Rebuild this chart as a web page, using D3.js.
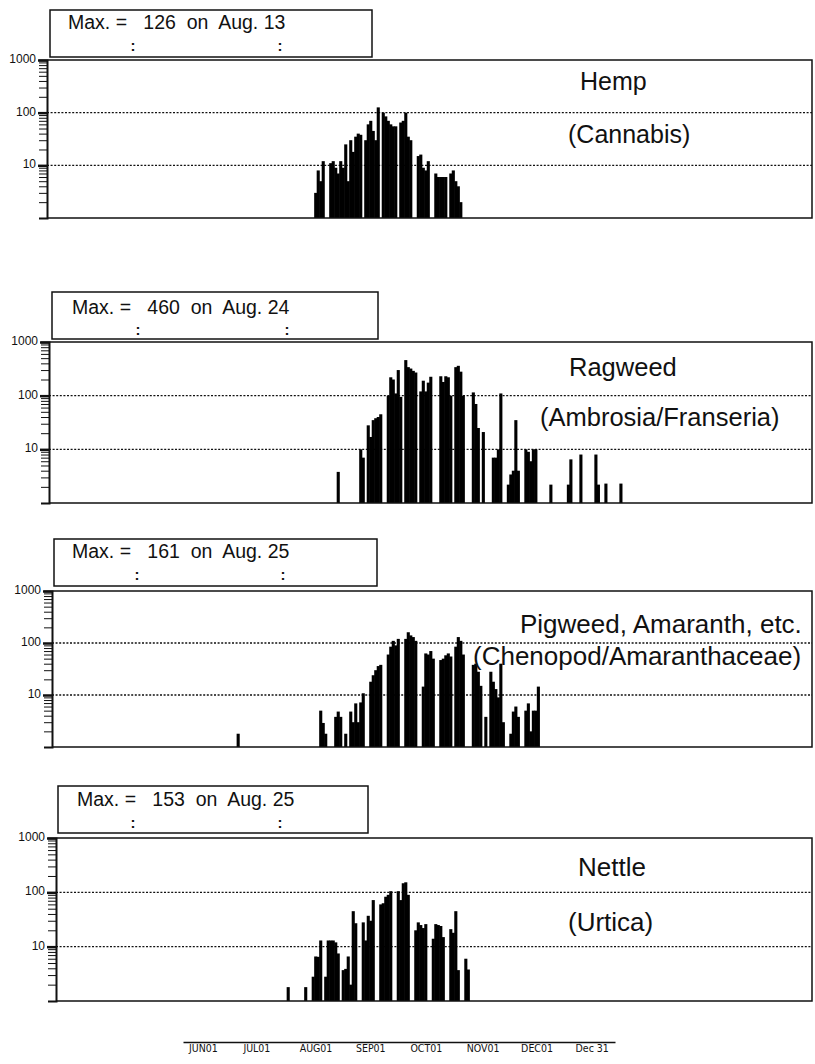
<!DOCTYPE html>
<html>
<head>
<meta charset="utf-8">
<script src="https://cdn.jsdelivr.net/npm/d3@7"></script>
<style>
  body { margin: 0; background: #fff; }
  svg { display: block; font-family: 'Liberation Sans', Arial, sans-serif; }
  .hdr { white-space: pre; }
</style>
</head>
<body>
<div id="chart"></div>
<script>
// daily pollen counts read off the scanned calendar, 0 = no count that day

var hempStart = '2001-07-19'
var hempCounts = [
  3, 8, 5, 12, 0, 0,
  11, 12, 9, 7, 12, 9,
  25, 5, 30, 18, 35, 40, 38, 0,
  30, 60, 70, 45, 30, 126, 0,
  100, 85, 70, 60, 55, 55, 0,
  65, 70, 100, 35, 30, 0, 0,
  15, 16, 9, 8, 12, 0, 0,
  7, 6, 6, 6, 6, 0,
  7, 8, 5, 4, 2
]

var ragweedStart = '2001-07-28'
var ragweedCounts = [
  3.8, 0, 0, 0, 0, 0, 0, 0, 0,
  10, 7, 0,
  28, 17, 35, 38, 40, 45, 0, 0,
  100, 220, 200, 110, 300, 95, 0,
  460, 340, 320, 290, 270, 0,
  120, 190, 120, 175, 225, 0, 0, 0,
  230, 180, 230, 220, 100, 0,
  340, 360, 280, 100, 0, 0, 0,
  115, 70, 25, 0, 21, 0, 0, 0,
  7, 7, 10, 110, 0, 0,
  2.2, 3.4, 4, 35, 4, 0, 0,
  10, 9, 6, 10, 10, 0, 0, 0, 0, 0,
  2.2, 0, 0, 0, 0, 0, 0,
  2.2, 6.5, 0, 0, 0,
  8, 0, 0, 0, 0, 0,
  8, 2.2, 0, 0,
  2.3, 0, 0, 0, 0, 0,
  2.3
]

var pigweedStart = '2001-06-18'
var pigweedCounts = [
  1.8, 0, 0, 0, 0, 0, 0, 0, 0, 0, 0, 0, 0, 0, 0, 0, 0,
  0, 0, 0, 0, 0, 0, 0, 0, 0, 0, 0, 0, 0, 0, 0, 0,
  5, 2.9, 1.8, 0, 0, 0,
  3.8, 4.8, 3.8, 0, 1.8, 0,
  4.8, 3, 6.9, 3, 7.2, 10.8, 0, 0,
  18, 24, 30, 36, 38, 0, 0,
  60, 85, 110, 90, 120, 0, 0,
  120, 161, 140, 130, 110, 0, 0,
  14.5, 63, 60, 70, 50, 0, 0,
  47, 50, 58, 63, 55, 0,
  85, 130, 110, 60, 0, 0, 0,
  38, 40, 28, 15, 0, 3.8, 0,
  28, 18, 13, 9, 40, 3, 0, 0,
  1.8, 4.8, 6, 3.8, 0, 0,
  5, 6.9, 2, 5, 5, 14.5
]

var nettleStart = '2001-07-08'
var nettleCounts = [
  1.8, 0, 0, 0, 0, 0, 0,
  1.8, 0, 0,
  2.8, 6.6, 6.5, 13, 0,
  2.8, 13, 13, 13, 12, 7.5, 0,
  3.7, 3.9, 6.6, 2, 45, 27, 0, 0,
  28, 13, 37, 30, 72, 0, 0,
  60, 63, 83, 90, 105, 0, 0,
  105, 72, 147, 153, 90, 0, 0,
  20, 28, 25, 22, 26, 0, 0,
  14, 26, 25, 24, 15, 0, 0,
  21, 18, 45, 3.7, 0, 0,
  6, 3.8
]

var taxaNames = ['Hemp', 'Ragweed', 'Pigweed, Amaranth, etc.', 'Nettle']
var taxaLatin = ['(Cannabis)', '(Ambrosia/Franseria)', '(Chenopod/Amaranthaceae)', '(Urtica)']
var maxValues = [126, 460, 161, 153]
var maxDates = ['Aug. 13', 'Aug. 24', 'Aug. 25', 'Aug. 25']
var yMajorTicks = [10, 100, 1000]
var gridValues = [10, 100]
var calendarTicks = ['2001-06-01', '2001-07-01', '2001-08-01', '2001-09-01', '2001-10-01', '2001-11-01', '2001-12-01', '2001-12-31']

// layout of the four stacked panels (pixel positions)
var layout = [
  { axisX: 47, top: 60, bottom: 218, box: [50, 10, 372, 57], hdrX: 68, hdrY: 29, colX: [133, 280], colY: 51, nameX: 580, nameY: 90, latinX: 568, latinY: 143, labelSize: 25 },
  { axisX: 49, top: 342, bottom: 503, box: [52, 292, 378, 339], hdrX: 72, hdrY: 314, colX: [138, 287], colY: 335, nameX: 569, nameY: 376, latinX: 540, latinY: 426, labelSize: 25.5 },
  { axisX: 52, top: 591, bottom: 747, box: [54, 539, 377, 586], hdrX: 72, hdrY: 558, colX: [137, 283], colY: 580, nameX: 520, nameY: 633, latinX: 473, latinY: 665, labelSize: 26 },
  { axisX: 56, top: 838, bottom: 1001, box: [58, 786, 368, 833], hdrX: 77, hdrY: 806, colX: [133, 280], colY: 828, nameX: 578, nameY: 876, latinX: 568, latinY: 931, labelSize: 26 }
]
var plotRight = 812

var parseDay = d3.utcParse('%Y-%m-%d')

// build one list of {date, value} per taxon
function toDaily (start, counts) {
  var t0 = parseDay(start)
  return counts.map(function (v, i) {
    return { date: d3.utcDay.offset(t0, i), value: v }
  }).filter(function (d) { return d.value > 0 })
}

var series = [
  toDaily(hempStart, hempCounts),
  toDaily(ragweedStart, ragweedCounts),
  toDaily(pigweedStart, pigweedCounts),
  toDaily(nettleStart, nettleCounts)
]

var svg = d3.select('#chart')
  .append('svg')
  .attr('width', 815)
  .attr('height', 1064)

svg.append('rect').attr('width', 815).attr('height', 1064).attr('fill', '#fff')

// common day scale for all panels
var x = d3.scaleUtc()
  .domain([parseDay('2001-04-04'), parseDay('2002-02-03')])
  .range([49, plotRight])

function drawPanel (i) {
  var p = layout[i]
  var g = svg.append('g').attr('class', 'panel')

  var y = d3.scaleLog().domain([1, 1000]).range([p.bottom, p.top])

  // header box with the seasonal maximum
  g.append('rect')
    .attr('x', p.box[0]).attr('y', p.box[1])
    .attr('width', p.box[2] - p.box[0]).attr('height', p.box[3] - p.box[1])
    .attr('fill', 'none').attr('stroke', '#111').attr('stroke-width', 1.5)
  g.append('text')
    .attr('class', 'hdr')
    .attr('x', p.hdrX).attr('y', p.hdrY)
    .attr('font-size', 19.5)
    .attr('fill', '#111')
    .text('Max. =   ' + maxValues[i] + '  on  ' + maxDates[i])
  g.selectAll('.colon')
    .data(p.colX)
    .enter()
    .append('text')
    .attr('class', 'colon')
    .attr('x', function (d) { return d })
    .attr('y', p.colY)
    .attr('font-size', 15)
    .attr('font-weight', 'bold')
    .attr('text-anchor', 'middle')
    .attr('fill', '#111')
    .text(':')

  // dotted grid lines
  g.selectAll('.grid')
    .data(gridValues)
    .enter()
    .append('line')
    .attr('class', 'grid')
    .attr('x1', p.axisX).attr('x2', plotRight)
    .attr('y1', function (d) { return y(d) })
    .attr('y2', function (d) { return y(d) })
    .attr('stroke', '#111')
    .attr('stroke-width', 1.3)
    .attr('stroke-dasharray', '2,1.6')

  // bars, slightly widened so a run of days reads as one solid block like the scan
  g.append('g')
    .selectAll('rect')
    .data(series[i])
    .enter()
    .append('rect')
    .attr('x', function (d) { return x(d.date) })
    .attr('width', function (d) { return x(d3.utcDay.offset(d.date, 1)) - x(d.date) + 0.6 })
    .attr('y', function (d) { return y(d.value) })
    .attr('height', function (d) { return y(1) - y(d.value) })
    .attr('fill', '#000')

  // frame: top, right and bottom
  g.append('path')
    .attr('d', 'M' + p.axisX + ',' + p.top + 'H' + plotRight + 'V' + p.bottom + 'H' + p.axisX)
    .attr('fill', 'none')
    .attr('stroke', '#111')
    .attr('stroke-width', 1.5)

  // log axis: minor ticks, then major ticks with labels
  var minor = d3.axisLeft(y)
    .tickValues(y.ticks().filter(function (d) { return yMajorTicks.indexOf(d) < 0 && d > 1 }))
    .tickSize(8)
    .tickFormat('')
  var gMinor = g.append('g')
    .attr('transform', 'translate(' + p.axisX + ',0)')
    .call(minor)
  gMinor.select('.domain').attr('stroke', '#111').attr('stroke-width', 2)
  gMinor.selectAll('.tick line').attr('stroke', '#111').attr('stroke-width', 1)

  var major = d3.axisLeft(y)
    .tickValues(yMajorTicks)
    .tickSize(9)
    .tickPadding(2)
    .tickFormat(d3.format('d'))
  var gMajor = g.append('g')
    .attr('transform', 'translate(' + p.axisX + ',0)')
    .call(major)
  gMajor.select('.domain').remove()
  gMajor.selectAll('.tick line').attr('stroke', '#111').attr('stroke-width', 2.5)
  gMajor.selectAll('.tick text')
    .attr('font-family', "'Liberation Sans', Arial, sans-serif")
    .attr('font-size', 12)
    .attr('fill', '#111')
    .attr('dy', '0.2em')

  // taxon labels
  g.append('text')
    .attr('x', p.nameX).attr('y', p.nameY)
    .attr('font-size', p.labelSize)
    .attr('fill', '#111')
    .text(taxaNames[i])
  g.append('text')
    .attr('x', p.latinX).attr('y', p.latinY)
    .attr('font-size', p.labelSize)
    .attr('fill', '#111')
    .text(taxaLatin[i])
}

d3.range(layout.length).forEach(drawPanel)

// the separate calendar strip at the foot of the page, labels start at their day
var calTicks = calendarTicks.map(parseDay)
var xCal = d3.scaleUtc()
  .domain([parseDay('2001-05-29'), parseDay('2002-01-22')])
  .range([183, 615])
var fmtMonth = d3.utcFormat('%b%d')
var calAxis = d3.axisBottom(xCal)
  .tickValues(calTicks)
  .tickSize(0)
  .tickSizeOuter(0)
  .tickPadding(3)
  .tickFormat(function (d, i) {
    return i === calTicks.length - 1 ? 'Dec 31' : fmtMonth(d).toUpperCase()
  })
var gCal = svg.append('g')
  .attr('transform', 'translate(0,1042)')
  .call(calAxis)
gCal.select('.domain').attr('stroke', '#111').attr('stroke-width', 1.5)
gCal.selectAll('.tick text')
  .attr('text-anchor', 'start')
  .attr('font-family', "'Liberation Sans Narrow', 'DejaVu Sans Condensed', sans-serif")
  .attr('font-size', 10.5)
  .attr('fill', '#111')
</script>
</body>
</html>
